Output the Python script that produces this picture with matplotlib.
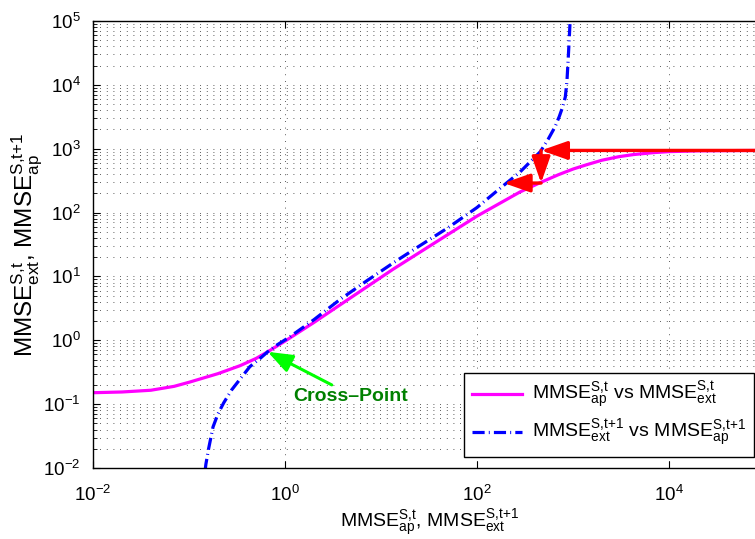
import matplotlib
matplotlib.use("Agg")
import matplotlib.pyplot as plt
import numpy as np

# values (log-log)
ap_x = [0.01, 0.02, 0.04, 0.07, 0.1, 0.2, 0.34, 0.5, 0.66, 1.0, 2.0, 5.0, 13.4, 30, 100, 280, 457,
        700, 1000, 1380, 2000, 3000, 4270, 7000, 10000, 20000, 50000, 100000]
ap_y = [0.151, 0.155, 0.165, 0.19, 0.22, 0.3, 0.4, 0.52, 0.66, 0.97, 1.9, 4.8, 13, 28, 88, 210, 295,
        390, 480, 560, 660, 750, 810, 870, 900, 925, 935, 940]

ext_x = [0.147, 0.15, 0.16, 0.178, 0.2, 0.23, 0.278, 0.35, 0.43, 0.55, 0.66, 0.8, 1.13, 2.0, 3.7, 7.0,
         14, 23.4, 50, 100, 180, 280, 457, 550, 650, 720, 780, 832, 865, 890, 915, 933]
ext_y = [0.009, 0.0115, 0.02, 0.044, 0.07, 0.105, 0.167, 0.26, 0.386, 0.52, 0.66, 0.82, 1.14, 2.1, 4.3, 8.4,
         17, 28, 58, 120, 250, 430, 900, 1400, 2200, 3200, 4500, 6500, 11500, 24500, 55000, 100000]

# red arrows (start, end) and the cross point annotation
red_arrows = [((100000, 940), (465, 940)),
              ((465, 940), (465, 290)),
              ((465, 290), (190, 290))]
cross_tip = (0.66, 0.66)
cross_tail = (3.07, 0.2)
cross_text = (1.21, 0.134)

xticks = [1e-2, 1e0, 1e2, 1e4]
yticks = [1e-2, 1e-1, 1e0, 1e1, 1e2, 1e3, 1e4, 1e5]

plt.rcParams['font.family'] = ['Liberation Sans', 'DejaVu Sans']
plt.rcParams['mathtext.fontset'] = 'custom'
plt.rcParams['mathtext.rm'] = 'Liberation Sans'
plt.rcParams['mathtext.it'] = 'Liberation Sans'
plt.rcParams['mathtext.bf'] = 'Liberation Sans:bold'

st = r'^{\mathrm{S{,}t}}'
st1 = r'^{\mathrm{S{,}t{+}1}}'

fig = plt.figure(figsize=(7.55, 5.39), dpi=100)
ax = fig.add_axes([93/755, 71/539, 672/755, 447/539])
ax.set_xscale('log')
ax.set_yscale('log')
ax.set_xlim(1e-2, 1e5)
ax.set_ylim(1e-2, 1e5)

ax.plot(ap_x, ap_y, color='#ff00ff', lw=2.3,
        label='MMSE$' + st + r'_{\mathrm{ap}}$ vs MMSE$' + st + r'_{\mathrm{ext}}$')
ax.plot(ext_x, ext_y, color='#0000ff', lw=2.3, linestyle=(0, (3.8, 1.3, 0.3, 1.3)),
        label='MMSE$' + st1 + r'_{\mathrm{ext}}$ vs MMSE$' + st1 + r'_{\mathrm{ap}}$')

for a, b in red_arrows:
    ax.annotate('', xy=b, xytext=a,
                arrowprops=dict(arrowstyle='-|>,head_length=0.8,head_width=0.28',
                                mutation_scale=20, color='#ff0000', lw=2.4,
                                shrinkA=0, shrinkB=0))

ax.annotate('', xy=cross_tip, xytext=cross_tail,
            arrowprops=dict(arrowstyle='-|>,head_length=0.75,head_width=0.28',
                            mutation_scale=20, color='#00ff00', lw=2.2,
                            shrinkA=0, shrinkB=0))
ax.text(cross_text[0], cross_text[1], 'Cross\u2013Point', color='#008000',
        fontsize=14, fontweight='bold', ha='left', va='center')

ax.set_xticks(xticks)
ax.set_yticks(yticks)
ax.xaxis.set_minor_locator(matplotlib.ticker.NullLocator())
ax.yaxis.set_minor_locator(matplotlib.ticker.LogLocator(base=10, subs=np.arange(2, 10), numticks=20))
ax.yaxis.set_minor_formatter(matplotlib.ticker.NullFormatter())
ax.tick_params(which='both', direction='in', top=True, right=True, labelsize=13.5)
ax.tick_params(which='major', length=5, width=0.8)
ax.tick_params(which='minor', length=3, width=0.6)
ax.tick_params(axis='x', pad=12)
ax.tick_params(axis='y', pad=9)

ax.grid(True, which='major', linestyle=(0, (1, 7)), color='0.15', lw=0.6)
ax.grid(True, which='minor', axis='y', linestyle=(0, (1, 7)), color='0.15', lw=0.6)
ax.set_axisbelow(True)
for s in ax.spines.values():
    s.set_linewidth(1.0)

ax.set_xlabel('MMSE$' + st + r'_{\mathrm{ap}}$, MMSE$' + st1 + r'_{\mathrm{ext}}$', fontsize=14)
ax.xaxis.set_label_coords(0.5, -40/447)
ax.set_ylabel('MMSE$' + st + r'_{\mathrm{ext}}$, MMSE$' + st1 + r'_{\mathrm{ap}}$', fontsize=17.5)
ax.yaxis.set_label_coords(-0.073, 0.5)

leg = ax.legend(loc='lower left', bbox_to_anchor=(464/755, 82/539), bbox_transform=fig.transFigure,
                borderaxespad=0, fontsize=14, frameon=True, fancybox=False, edgecolor='black',
                framealpha=1, handlelength=2.6, handletextpad=0.5, labelspacing=0.35)
leg.get_frame().set_linewidth(1.0)

fig.savefig('out.png', dpi=100)
plt.close(fig)
